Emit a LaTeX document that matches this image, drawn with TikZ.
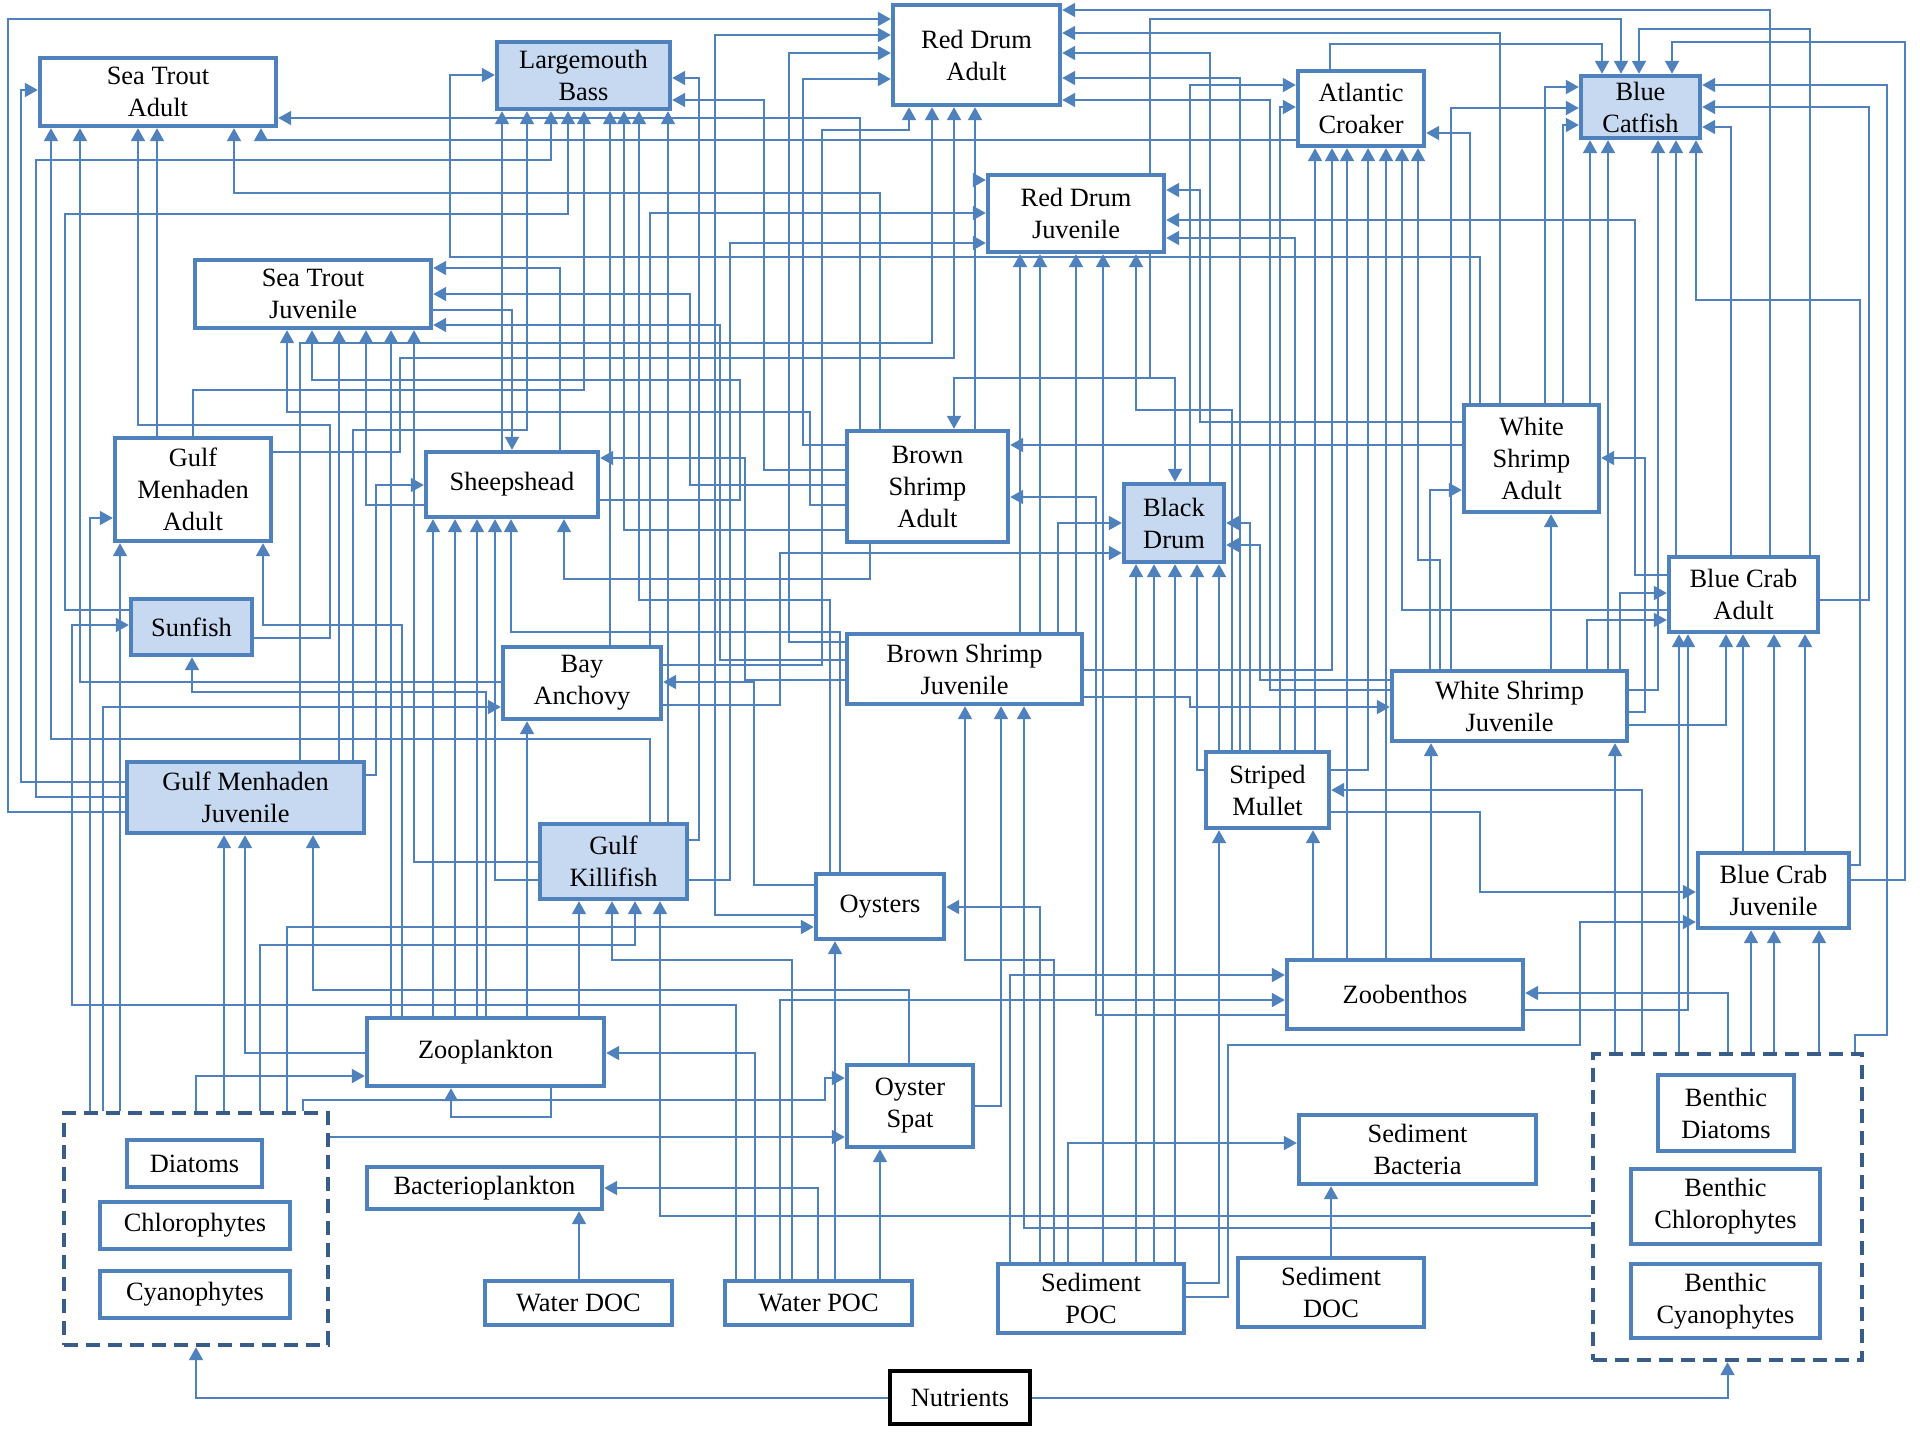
\documentclass[tikz,border=0pt]{standalone}
\usepackage{fontspec}
\setmainfont{Liberation Serif}
\usetikzlibrary{arrows.meta}
\pgfdeclarelayer{bg}
\pgfsetlayers{bg,main}
\definecolor{bordc}{HTML}{4F81BD}
\definecolor{linec}{HTML}{4F81BD}
\definecolor{fillc}{HTML}{C6D9F1}
\definecolor{dashc}{HTML}{385D8A}
\newcommand\fs{\fontsize{13.2}{16}\selectfont}
\newcommand\nd[7][box]{\node[#1, minimum width=#5*0.5pt, minimum height=#6*0.5pt] (#2) at (#3,#4) {#7};}
\begin{document}
\begin{tikzpicture}[x=0.5pt,y=-0.5pt,
  box/.style={draw=bordc, line width=2.2pt, fill=white, align=center, inner sep=1pt, font=\fs, text=black},
  fbox/.style={box, fill=fillc},
  grp/.style={draw=dashc, line width=2.2pt, dash pattern=on 7pt off 4pt, fill=white},
  nbox/.style={box, draw=black},
  cn/.style={draw=linec, line width=1pt, -{Triangle[width=7pt,length=6.5pt]}},
]
\useasboundingbox (0,0) rectangle (1920,1440);
% groups
\nd[grp]{PHY}{196}{1229}{264}{232}{}
\nd[grp]{BEN}{1727.5}{1207}{269}{306}{}
% nodes
\nd{STA}{158}{92}{236}{68}{Sea Trout\\Adult}
\nd[fbox]{LMB}{583.5}{75.5}{173}{67}{Largemouth\\Bass}
\nd{RDA}{976.5}{55}{167}{100}{Red Drum\\Adult}
\nd{AC}{1361}{108.5}{126}{75}{Atlantic\\Croaker}
\nd[fbox]{BC}{1640.5}{107}{119}{62}{Blue\\Catfish}
\nd{RDJ}{1076}{213.5}{176}{77}{Red Drum\\Juvenile}
\nd{STJ}{313}{294}{236}{68}{Sea Trout\\Juvenile}
\nd{GMA}{193}{489.5}{156}{103}{Gulf\\Menhaden\\Adult}
\nd{SH}{512}{484.5}{172}{65}{Sheepshead}
\nd{BSA}{927.5}{486.5}{161}{111}{Brown\\Shrimp\\Adult}
\nd[fbox]{BD}{1174}{523}{100}{78}{Black\\Drum}
\nd{WSA}{1531.5}{458.5}{135}{107}{White\\Shrimp\\Adult}
\nd{BCA}{1743.5}{594.5}{149}{75}{Blue Crab\\Adult}
\nd[fbox]{SF}{191.5}{627}{121}{56}{Sunfish}
\nd{BA}{582}{683}{158}{72}{Bay\\Anchovy}
\nd{BSJ}{964.5}{669}{235}{70}{Brown Shrimp\\Juvenile}
\nd{WSJ}{1509.5}{706}{235}{70}{White Shrimp\\Juvenile}
\nd{SM}{1267.5}{790}{123}{76}{Striped\\Mullet}
\nd[fbox]{GMJ}{245.5}{797.5}{237}{71}{Gulf Menhaden\\Juvenile}
\nd[fbox]{GK}{613.5}{861.5}{147}{75}{Gulf\\Killifish}
\nd{OY}{880}{906.5}{128}{65}{Oysters}
\nd{BCJ}{1773.5}{890.5}{151}{75}{Blue Crab\\Juvenile}
\nd{ZB}{1405}{994.5}{236}{69}{Zoobenthos}
\nd{ZP}{485.5}{1052}{237}{68}{Zooplankton}
\nd{OS}{910}{1106}{126}{82}{Oyster\\Spat}
\nd{SB}{1417.5}{1149.5}{237}{69}{Sediment\\Bacteria}
\nd{BP}{484.5}{1188}{235}{42}{Bacterioplankton}
\nd{WDOC}{578.5}{1303}{187}{44}{Water DOC}
\nd{WPOC}{818.5}{1303}{187}{44}{Water POC}
\nd{SPOC}{1091}{1298.5}{186}{69}{Sediment\\POC}
\nd{SDOC}{1331}{1292.5}{186}{69}{Sediment\\DOC}
\nd[nbox]{NU}{960}{1397.5}{140}{53}{Nutrients}
\nd{DI}{194.5}{1163.5}{135}{47}{Diatoms}
\nd{CH}{195}{1225.5}{190}{47}{Chlorophytes}
\nd{CY}{195}{1294.5}{190}{47}{Cyanophytes}
\nd{BDI}{1726}{1113}{136}{76}{Benthic\\Diatoms}
\nd{BCH}{1725.5}{1206.5}{189}{75}{Benthic\\Chlorophytes}
\nd{BCY}{1725.5}{1301}{189}{74}{Benthic\\Cyanophytes}

\begin{pgfonlayer}{bg}
\fill[white] (0,0) rectangle (1920,1440);
% Sea Trout Adult
\draw[cn] (GMJ.west|-0,782) -| (21,90) -- (STA.west|-0,90);
\draw[cn] (GMA.north-|157,0) -- (STA.south-|157,0);
\draw[cn] (BA.west|-0,682) -| (STA.south-|80,0);
\draw[cn] (GK.north-|650,0) |- (51,739) -- (STA.south-|51,0);
\draw[cn] (SF.east|-0,638) -| (330,425) -| (STA.south-|138,0);
\draw[cn] (BSA.north-|880,0) |- (234,193) -- (STA.south-|234,0);
\draw[cn] (AC.west|-0,140) -| (STA.south-|261,0);
\draw[cn] (BSA.north-|860,0) |- (STA.east|-0,118);
% Largemouth Bass
\draw[cn] (WSA.north-|1480,0) |- (450,257) |- (LMB.west|-0,75);
\draw[cn] (GK.east|-0,840) -| (699,78) -- (LMB.east|-0,78);
\draw[cn] (BSA.west|-0,470) -| (764,100) -- (LMB.east|-0,100);
\draw[cn] (SH.north-|502,0) -- (LMB.south-|502,0);
\draw[cn] (GMJ.north-|353,0) |- (527,430) -- (LMB.south-|527,0);
\draw[cn] (GMJ.west|-0,797) -| (36,160) -| (LMB.south-|551,0);
\draw[cn] (SF.west|-0,610) -| (65,214) -| (LMB.south-|568,0);
\draw[cn] (GMA.north-|193,0) |- (584,390) -- (LMB.south-|584,0);
\draw[cn] (BA.north-|610,0) -- (LMB.south-|610,0);
\draw[cn] (BSA.west|-0,530) -| (LMB.south-|624,0);
\draw[cn] (OY.north-|830,0) |- (639,600) -- (LMB.south-|639,0);
\draw[cn] (GK.north-|668,0) -- (LMB.south-|668,0);
% Red Drum Adult
\draw[cn] (GMJ.west|-0,812) -| (8,19) -- (RDA.west|-0,19);
\draw[cn] (OY.west|-0,915) -| (715,35) -- (RDA.west|-0,35);
\draw[cn] (BSJ.west|-0,642) -| (789,53) -- (RDA.west|-0,53);
\draw[cn] (BSA.west|-0,445) -| (803,79) -- (RDA.west|-0,79);
\draw[cn] (BCA.north-|1770,0) |- (RDA.east|-0,10);
\draw[cn] (WSA.north-|1500,0) |- (RDA.east|-0,33);
\draw[cn] (BD.north-|1210,0) |- (RDA.east|-0,53);
\draw[cn] (SM.north-|1240,0) |- (RDA.east|-0,78);
\draw[cn] (WSJ.west|-0,690) -| (1270,100) -- (RDA.east|-0,100);
\draw[cn] (BA.east|-0,665) -| (822,130) -| (RDA.south-|909,0);
\draw[cn] (GMJ.north-|300,0) |- (932,343) -- (RDA.south-|932,0);
\draw[cn] (GMA.east|-0,452) -| (400,358) -| (RDA.south-|954,0);
\draw[cn] (BSA.north-|975,0) -- (RDA.south-|975,0);
% Atlantic Croaker
\draw[cn] (BD.north-|1190,0) |- (AC.west|-0,85);
\draw[cn] (SM.north-|1280,0) |- (AC.west|-0,107);
\draw[cn] (WSA.north-|1470,0) |- (AC.east|-0,133);
\draw[cn] (SM.north-|1315,0) -- (AC.south-|1315,0);
\draw[cn] (BSJ.east|-0,670) -| (AC.south-|1332,0);
\draw[cn] (ZB.north-|1347,0) -- (AC.south-|1347,0);
\draw[cn] (SM.east|-0,770) -| (AC.south-|1368,0);
\draw[cn] (ZB.north-|1386,0) -- (AC.south-|1386,0);
\draw[cn] (BCA.west|-0,610) -| (AC.south-|1402,0);
\draw[cn] (WSJ.north-|1440,0) |- (1418,560) -- (AC.south-|1418,0);
% Blue Catfish
\draw[cn] (AC.north-|1330,0) |- (1602,44) -- (BC.north-|1602,0);
\draw[cn] (RDJ.north-|1150,0) |- (1621,19) -- (BC.north-|1621,0);
\draw[cn] (BCA.north-|1810,0) |- (1639,29) -- (BC.north-|1639,0);
\draw[cn] (BCJ.east|-0,880) -| (1905,42) -| (BC.north-|1672,0);
\draw[cn] (WSA.north-|1545,0) |- (BC.west|-0,87);
\draw[cn] (WSJ.north-|1451,0) |- (BC.west|-0,108);
\draw[cn] (WSA.north-|1563,0) |- (BC.west|-0,125);
\draw[cn] (BEN.north-|1855,0) |- (1887,1035) |- (BC.east|-0,85);
\draw[cn] (BCA.east|-0,600) -| (1869,107) -- (BC.east|-0,107);
\draw[cn] (BCA.north-|1731,0) |- (BC.east|-0,127);
\draw[cn] (WSA.north-|1590,0) -- (BC.south-|1590,0);
\draw[cn] (WSJ.north-|1608,0) -- (BC.south-|1608,0);
\draw[cn] (WSJ.east|-0,690) -| (BC.south-|1658,0);
\draw[cn] (BCA.north-|1676,0) -- (BC.south-|1676,0);
\draw[cn] (BCJ.east|-0,865) -| (1860,300) -| (BC.south-|1696,0);
% Red Drum Juvenile
\draw[cn] (BSA.north-|975,0) |- (RDJ.west|-0,180);
\draw[cn] (BA.north-|650,0) |- (RDJ.west|-0,213);
\draw[cn] (GK.east|-0,880) -| (730,243) -- (RDJ.west|-0,243);
\draw[cn] (WSA.west|-0,422) -| (1200,190) -- (RDJ.east|-0,190);
\draw[cn] (BCA.west|-0,575) -| (1635,220) -- (RDJ.east|-0,220);
\draw[cn] (SM.north-|1295,0) |- (RDJ.east|-0,238);
\draw[cn] (BSJ.north-|1020,0) -- (RDJ.south-|1020,0);
\draw[cn] (BSJ.north-|1040,0) -- (RDJ.south-|1040,0);
\draw[cn] (BSJ.north-|1076,0) -- (RDJ.south-|1076,0);
\draw[cn] (SPOC.north-|1103,0) -- (RDJ.south-|1103,0);
\draw[cn] (SM.north-|1232,0) |- (1136,410) -- (RDJ.south-|1136,0);
% Sea Trout Juvenile
\draw[cn] (SH.north-|560,0) |- (STJ.east|-0,268);
\draw[cn] (BSA.west|-0,485) -| (690,294) -- (STJ.east|-0,294);
\draw[cn] (BSJ.west|-0,660) -| (720,325) -- (STJ.east|-0,325);
\draw[cn] (BSA.west|-0,505) -| (810,412) -| (STJ.south-|287,0);
\draw[cn] (SH.east|-0,500) -| (740,380) -| (STJ.south-|312,0);
\draw[cn] (GMJ.north-|339,0) -- (STJ.south-|339,0);
\draw[cn] (SH.west|-0,505) -| (STJ.south-|366,0);
\draw[cn] (ZP.north-|391,0) -- (STJ.south-|391,0);
\draw[cn] (GK.west|-0,862) -| (STJ.south-|414,0);
% Gulf Menhaden Adult
\draw[cn] (PHY.north-|90,0) |- (GMA.west|-0,518);
\draw[cn] (PHY.north-|120,0) -- (GMA.south-|120,0);
\draw[cn] (ZP.north-|402,0) |- (263,625) -- (GMA.south-|263,0);
% Sunfish
\draw[cn] (WPOC.north-|736,0) |- (72,1005) |- (SF.west|-0,625);
\draw[cn] (ZP.north-|486,0) |- (192,692) -- (SF.south-|192,0);
% Sheepshead
\draw[cn] (STJ.east|-0,310) -| (SH.north-|512,0);
\draw[cn] (GMJ.east|-0,775) -| (376,485) -- (SH.west|-0,485);
\draw[cn] (BSJ.west|-0,680) -| (745,458) -- (SH.east|-0,458);
\draw[cn] (ZP.north-|433,0) -- (SH.south-|433,0);
\draw[cn] (ZP.north-|455,0) -- (SH.south-|455,0);
\draw[cn] (ZP.north-|477,0) -- (SH.south-|477,0);
\draw[cn] (GK.west|-0,880) -| (SH.south-|495,0);
\draw[cn] (OY.north-|840,0) |- (511,632) -- (SH.south-|511,0);
\draw[cn] (BSA.south-|870,0) |- (564,579) -- (SH.south-|564,0);
% Brown Shrimp Adult
\draw[cn] (RDJ.south-|1150,0) |- (954,378) -- (BSA.north-|954,0);
\draw[cn] (WSA.west|-0,445) -- (BSA.east|-0,445);
\draw[cn] (ZB.west|-0,1015) -| (1096,497) -- (BSA.east|-0,497);
% Black Drum
\draw[cn] (RDJ.south-|1150,0) |- (1175,378) -- (BD.north-|1175,0);
\draw[cn] (BSJ.north-|1058,0) |- (BD.west|-0,523);
\draw[cn] (BA.east|-0,705) -| (780,553) -- (BD.west|-0,553);
\draw[cn] (SM.north-|1250,0) |- (BD.east|-0,523);
\draw[cn] (WSJ.west|-0,680) -| (1260,545) -- (BD.east|-0,545);
\draw[cn] (SPOC.north-|1136,0) -- (BD.south-|1136,0);
\draw[cn] (SPOC.north-|1154,0) -- (BD.south-|1154,0);
\draw[cn] (SPOC.north-|1175,0) -- (BD.south-|1175,0);
\draw[cn] (SM.west|-0,770) -| (BD.south-|1197,0);
\draw[cn] (SM.north-|1219,0) -- (BD.south-|1219,0);
% White Shrimp Adult
\draw[cn] (WSJ.north-|1430,0) |- (WSA.west|-0,490);
\draw[cn] (WSJ.east|-0,712) -| (1645,458) -- (WSA.east|-0,458);
\draw[cn] (WSJ.north-|1551,0) -- (WSA.south-|1551,0);
% Blue Crab Adult
\draw[cn] (WSJ.north-|1620,0) |- (BCA.west|-0,593);
\draw[cn] (WSJ.north-|1587,0) |- (BCA.west|-0,620);
\draw[cn] (BEN.north-|1679,0) -- (BCA.south-|1679,0);
\draw[cn] (ZB.east|-0,1010) -| (BCA.south-|1688,0);
\draw[cn] (WSJ.east|-0,725) -| (BCA.south-|1726,0);
\draw[cn] (BCJ.north-|1743,0) -- (BCA.south-|1743,0);
\draw[cn] (BCJ.north-|1774,0) -- (BCA.south-|1774,0);
\draw[cn] (BCJ.north-|1805,0) -- (BCA.south-|1805,0);
% White Shrimp Juvenile
\draw[cn] (BSJ.east|-0,697) -- (1190,697) |- (WSJ.west|-0,707);
\draw[cn] (ZB.north-|1431,0) -- (WSJ.south-|1431,0);
\draw[cn] (BEN.north-|1615,0) -- (WSJ.south-|1615,0);
% Striped Mullet
\draw[cn] (BEN.north-|1642,0) |- (SM.east|-0,790);
\draw[cn] (SPOC.east|-0,1283) -| (SM.south-|1219,0);
\draw[cn] (ZB.north-|1313,0) -- (SM.south-|1313,0);
% Blue Crab Juvenile
\draw[cn] (SM.east|-0,812) -| (1480,892) -- (BCJ.west|-0,892);
\draw[cn] (SPOC.east|-0,1297) -| (1228,1045) -| (1580,922) -- (BCJ.west|-0,922);
\draw[cn] (BEN.north-|1751,0) -- (BCJ.south-|1751,0);
\draw[cn] (BEN.north-|1774,0) -- (BCJ.south-|1774,0);
\draw[cn] (BEN.north-|1819,0) -- (BCJ.south-|1819,0);
% Zoobenthos
\draw[cn] (SPOC.north-|1010,0) |- (ZB.west|-0,975);
\draw[cn] (WPOC.north-|780,0) |- (ZB.west|-0,1000);
\draw[cn] (BEN.north-|1728,0) |- (ZB.east|-0,993);
% Zooplankton
\draw[cn] (PHY.north-|196,0) |- (ZP.west|-0,1076);
\draw[cn] (WPOC.north-|755,0) |- (ZP.east|-0,1053);
\draw[cn] (ZP.south-|551,0) |- (451,1117) -- (ZP.south-|451,0);
% Bacterioplankton
\draw[cn] (WDOC.north-|579,0) -- (BP.south-|579,0);
\draw[cn] (WPOC.north-|818,0) |- (BP.east|-0,1188);
% Oyster Spat
\draw[cn] (WPOC.north-|880,0) -- (OS.south-|880,0);
\draw[cn] (PHY.north-|303,0) |- (825,1100) |- (OS.west|-0,1078);
\draw[cn] (PHY.east|-0,1137) -- (OS.west|-0,1137);
% Oysters
\draw[cn] (WPOC.north-|835,0) -- (OY.south-|835,0);
\draw[cn] (PHY.north-|287,0) |- (OY.west|-0,927);
\draw[cn] (SPOC.north-|1040,0) |- (OY.east|-0,907);
% Gulf Killifish
\draw[cn] (ZP.north-|579,0) -- (GK.south-|579,0);
\draw[cn] (WPOC.north-|792,0) |- (612,960) -- (GK.south-|612,0);
\draw[cn] (PHY.north-|260,0) |- (635,945) -- (GK.south-|635,0);
\draw[cn] (BEN.west|-0,1216) -| (GK.south-|660,0);
% Gulf Menhaden Juvenile
\draw[cn] (PHY.north-|224,0) -- (GMJ.south-|224,0);
\draw[cn] (ZP.west|-0,1053) -| (GMJ.south-|245,0);
\draw[cn] (OS.north-|909,0) |- (313,990) -- (GMJ.south-|313,0);
% Bay Anchovy
\draw[cn] (PHY.north-|103,0) |- (BA.west|-0,707);
\draw[cn] (OY.west|-0,885) -| (754,682) -- (BA.east|-0,682);
\draw[cn] (ZP.north-|527,0) -- (BA.south-|527,0);
% Brown Shrimp Juvenile
\draw[cn] (SPOC.north-|1054,0) |- (965,960) -- (BSJ.south-|965,0);
\draw[cn] (OS.east|-0,1106) -| (BSJ.south-|1001,0);
\draw[cn] (BEN.west|-0,1228) -| (BSJ.south-|1024,0);
% Sediment Bacteria
\draw[cn] (SDOC.north-|1331,0) -- (SB.south-|1331,0);
\draw[cn] (SPOC.north-|1068,0) |- (SB.west|-0,1143);
% Nutrients
\draw[cn] (NU.west) -| (PHY.south);
\draw[cn] (NU.east) -| (BEN.south);
\end{pgfonlayer}
\end{tikzpicture}
\end{document}
